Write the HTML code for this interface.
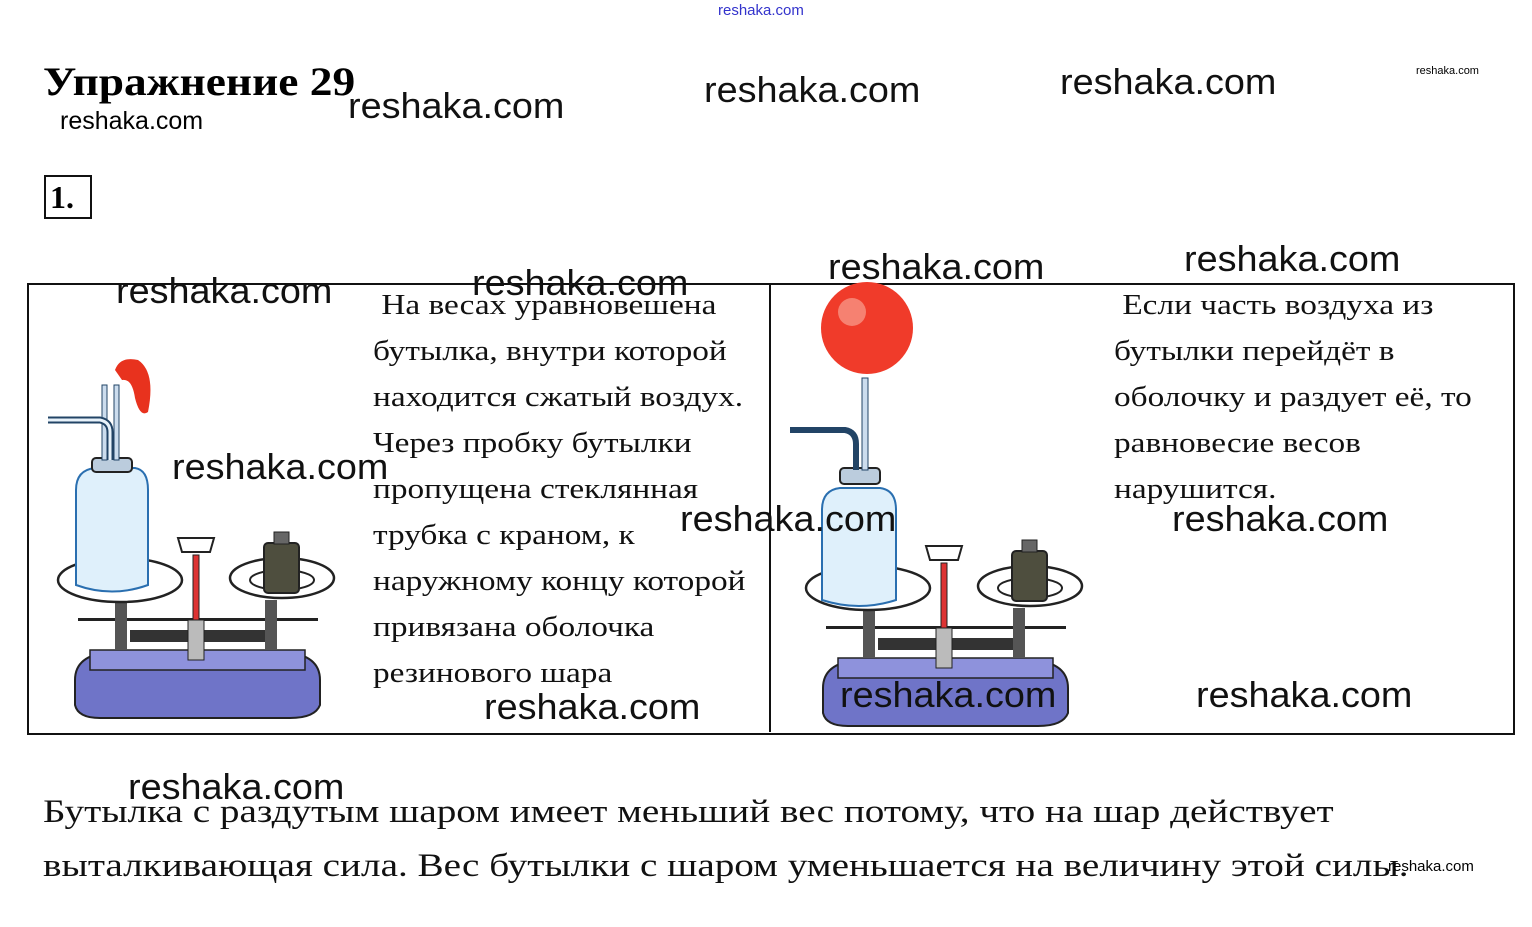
<!DOCTYPE html>
<html><head><meta charset="utf-8"><style>
body{margin:0;width:1532px;height:927px;background:#fff;position:relative;overflow:hidden;font-family:"Liberation Serif",serif;}
.a{position:absolute;white-space:nowrap;transform-origin:0 0;}
.w{position:absolute;font-family:"Liberation Sans",sans-serif;font-size:36px;color:#111;white-space:nowrap;line-height:1;transform:scaleX(1.05);transform-origin:0 0;}
.t{position:absolute;font-size:29px;line-height:46px;color:#111;white-space:nowrap;transform:scaleX(1.149);transform-origin:0 0;}
</style></head><body>
<div class="a" style="left:718px;top:2px;font-family:'Liberation Sans',sans-serif;font-size:15px;color:#33c;">reshaka.com</div>
<div class="a" style="left:43px;top:58px;font-size:40px;font-weight:bold;transform:scaleX(1.135);">Упражнение 29</div>
<div class="a" style="left:60px;top:107px;font-family:'Liberation Sans',sans-serif;font-size:25px;">reshaka.com</div>
<div class="w" style="left:348px;top:88px;">reshaka.com</div>
<div class="w" style="left:704px;top:72px;">reshaka.com</div>
<div class="w" style="left:1060px;top:64px;">reshaka.com</div>
<div class="a" style="left:1416px;top:65px;font-family:'Liberation Sans',sans-serif;font-size:11px;">reshaka.com</div>
<div class="a" style="left:44px;top:175px;border:2px solid #111;font-size:32px;font-weight:bold;line-height:40px;padding-left:4px;box-sizing:border-box;width:48px;height:44px;">1.</div>
<div class="a" style="left:27px;top:283px;width:1484px;height:448px;border:2px solid #111;"></div>
<div class="a" style="left:769px;top:284px;width:2px;height:448px;background:#111;"></div>
<div class="t" style="left:373px;top:282px;">&nbsp;На весах уравновешена<br>бутылка, внутри которой<br>находится сжатый воздух.<br>Через пробку бутылки<br>пропущена стеклянная<br>трубка с краном, к<br>наружному концу которой<br>привязана оболочка<br>резинового шара</div>
<div class="t" style="left:1114px;top:282px;">&nbsp;Если часть воздуха из<br>бутылки перейдёт в<br>оболочку и раздует её, то<br>равновесие весов<br>нарушится.</div>
<svg class="a" style="left:0;top:0" width="1532" height="927">
<defs>
<g id="sc">
<path d="M75,680 Q75,655 110,652 L285,652 Q320,655 320,680 L320,705 Q315,718 290,718 L100,718 Q78,718 75,705Z" fill="#6f74c8" stroke="#222" stroke-width="2"/>
<rect x="90" y="650" width="215" height="20" fill="#8e92dc" stroke="#222" stroke-width="1.5"/>
<rect x="130" y="630" width="140" height="12" fill="#333"/>
<rect x="78" y="618" width="240" height="3" fill="#222"/>
<rect x="188" y="620" width="16" height="40" fill="#bbb" stroke="#222"/>
<rect x="193" y="555" width="6" height="65" fill="#d33" stroke="#222"/>
<path d="M178,538 L214,538 L210,552 L182,552Z" fill="#fff" stroke="#222" stroke-width="2"/>
<rect x="115" y="600" width="12" height="50" fill="#555"/><rect x="265" y="600" width="12" height="50" fill="#555"/>
<ellipse cx="120" cy="580" rx="62" ry="22" fill="#fff" stroke="#222" stroke-width="2.5"/>
<ellipse cx="282" cy="578" rx="52" ry="20" fill="#fff" stroke="#222" stroke-width="2.5"/>
<ellipse cx="282" cy="580" rx="32" ry="10" fill="none" stroke="#222" stroke-width="2"/>
<rect x="264" y="543" width="35" height="50" rx="4" fill="#4e4e3e" stroke="#222" stroke-width="2"/>
<rect x="274" y="532" width="15" height="12" fill="#666" stroke="#222"/>
</g>
</defs>
<use href="#sc"/>
<use href="#sc" transform="translate(748,8)"/>
<path d="M76,490 Q76,470 95,468 L135,468 Q148,470 148,490 L148,585 Q112,598 76,585Z" fill="#dff0fb" stroke="#2a6fb0" stroke-width="2"/>
<rect x="92" y="458" width="40" height="14" rx="4" fill="#bcd" stroke="#222" stroke-width="2"/>
<rect x="102" y="385" width="5" height="75" fill="#cde" stroke="#246"/><rect x="114" y="385" width="5" height="75" fill="#cde" stroke="#246"/>
<path d="M48,420 L100,420 Q110,422 110,432 L110,460" fill="none" stroke="#246" stroke-width="7"/>
<path d="M48,420 L100,420 Q110,422 110,432 L110,460" fill="none" stroke="#e8f2fa" stroke-width="3"/>
<path d="M115,370 Q120,356 138,360 Q156,372 148,412 Q140,418 135,398 Q132,378 122,380Z" fill="#e8321e"/>
<circle cx="867" cy="328" r="46" fill="#f03b2a"/><circle cx="852" cy="312" r="14" fill="#f8a090" opacity=".7"/>
<path d="M822,510 Q822,490 840,488 L880,488 Q896,490 896,510 L896,600 Q859,612 822,600Z" fill="#dff0fb" stroke="#2a6fb0" stroke-width="2"/>
<rect x="840" y="468" width="40" height="16" rx="4" fill="#bcd" stroke="#222" stroke-width="2"/>
<rect x="862" y="378" width="6" height="92" fill="#cde" stroke="#246"/>
<path d="M790,430 L845,430 Q856,432 856,444 L856,470" fill="none" stroke="#246" stroke-width="6"/>
</svg>
<div class="w" style="left:472px;top:265px;">reshaka.com</div>
<div class="w" style="left:116px;top:273px;">reshaka.com</div>
<div class="w" style="left:828px;top:249px;">reshaka.com</div>
<div class="w" style="left:1184px;top:241px;">reshaka.com</div>
<div class="w" style="left:172px;top:449px;">reshaka.com</div>
<div class="w" style="left:680px;top:501px;">reshaka.com</div>
<div class="w" style="left:1172px;top:501px;">reshaka.com</div>
<div class="w" style="left:484px;top:689px;">reshaka.com</div>
<div class="w" style="left:840px;top:677px;">reshaka.com</div>
<div class="w" style="left:1196px;top:677px;">reshaka.com</div>
<div class="w" style="left:128px;top:769px;">reshaka.com</div>
<div class="a" style="left:43px;top:785px;font-size:33px;line-height:54px;color:#111;transform:scaleX(1.187);">Бутылка с раздутым шаром имеет меньший вес потому, что на шар действует<br>выталкивающая сила. Вес бутылки с шаром уменьшается на величину этой силы.</div>
<div class="a" style="left:1388px;top:858px;font-family:'Liberation Sans',sans-serif;font-size:15px;">reshaka.com</div>
</body></html>
